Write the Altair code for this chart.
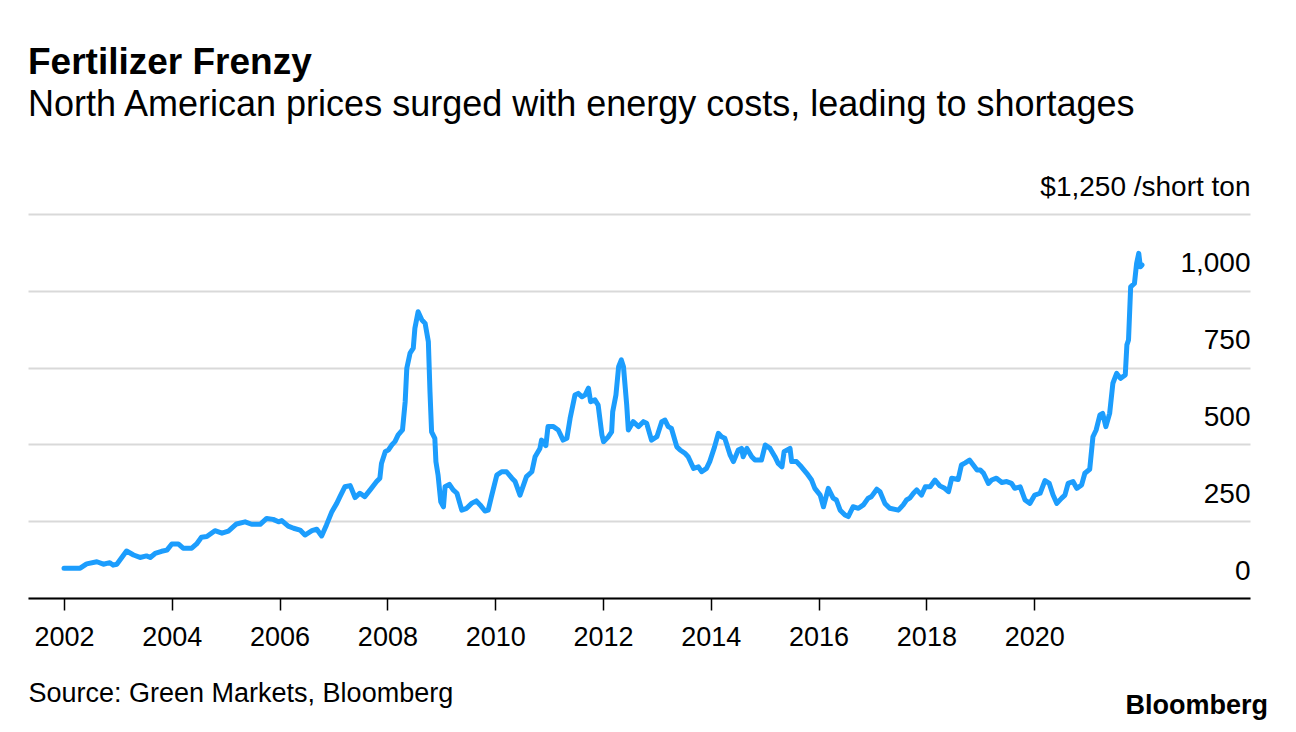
import altair as alt
import pandas as pd

FONT = "Liberation Sans"

years = [
    2002.00, 2002.30, 2002.42, 2002.61, 2002.73, 2002.85, 2002.91, 2002.98,
    2003.16, 2003.29, 2003.41, 2003.53, 2003.60, 2003.69, 2003.81, 2003.91,
    2004.00, 2004.12, 2004.21, 2004.37, 2004.46, 2004.55, 2004.65, 2004.80,
    2004.93, 2005.05, 2005.20, 2005.36, 2005.48, 2005.64, 2005.76, 2005.88,
    2005.98, 2006.04, 2006.16, 2006.26, 2006.38, 2006.47, 2006.60, 2006.69,
    2006.78, 2006.87, 2006.97, 2007.06, 2007.12, 2007.21, 2007.31, 2007.40,
    2007.49, 2007.58, 2007.68, 2007.80, 2007.86, 2007.89, 2007.96, 2008.02,
    2008.08, 2008.14, 2008.20, 2008.28, 2008.33, 2008.36, 2008.42, 2008.48,
    2008.51, 2008.57, 2008.64, 2008.70, 2008.76, 2008.79, 2008.82, 2008.88,
    2008.90, 2008.94, 2008.99, 2009.04, 2009.07, 2009.15, 2009.22, 2009.29,
    2009.38, 2009.47, 2009.56, 2009.65, 2009.72, 2009.81, 2009.87, 2009.93,
    2010.03, 2010.12, 2010.21, 2010.31, 2010.37, 2010.46, 2010.58, 2010.68,
    2010.74, 2010.83, 2010.86, 2010.94, 2010.98, 2011.08, 2011.17, 2011.26,
    2011.33, 2011.39, 2011.48, 2011.54, 2011.61, 2011.67, 2011.73, 2011.77,
    2011.85, 2011.91, 2011.98, 2012.01, 2012.10, 2012.16, 2012.18, 2012.24,
    2012.29, 2012.34, 2012.38, 2012.44, 2012.47, 2012.56, 2012.66, 2012.75,
    2012.81, 2012.90, 2013.00, 2013.09, 2013.15, 2013.21, 2013.27, 2013.37,
    2013.43, 2013.52, 2013.58, 2013.68, 2013.77, 2013.83, 2013.92, 2013.98,
    2014.07, 2014.14, 2014.20, 2014.26, 2014.36, 2014.42, 2014.51, 2014.57,
    2014.60, 2014.67, 2014.76, 2014.82, 2014.94, 2015.01, 2015.10, 2015.19,
    2015.25, 2015.32, 2015.36, 2015.47, 2015.50, 2015.59, 2015.68, 2015.78,
    2015.87, 2015.93, 2016.03, 2016.09, 2016.18, 2016.27, 2016.33, 2016.40,
    2016.49, 2016.55, 2016.64, 2016.74, 2016.83, 2016.92, 2016.98, 2017.08,
    2017.14, 2017.23, 2017.32, 2017.48, 2017.57, 2017.63, 2017.69, 2017.76,
    2017.82, 2017.91, 2017.98, 2018.07, 2018.16, 2018.25, 2018.34, 2018.41,
    2018.47, 2018.59, 2018.65, 2018.72, 2018.80, 2018.87, 2018.94, 2019.00,
    2019.06, 2019.15, 2019.21, 2019.30, 2019.40, 2019.49, 2019.58, 2019.64,
    2019.74, 2019.83, 2019.92, 2020.01, 2020.11, 2020.20, 2020.28, 2020.35,
    2020.42, 2020.51, 2020.57, 2020.63, 2020.72, 2020.79, 2020.88, 2020.94,
    2021.03, 2021.09, 2021.15, 2021.22, 2021.27, 2021.33, 2021.40, 2021.46,
    2021.53, 2021.60, 2021.69, 2021.72, 2021.75, 2021.79, 2021.86, 2021.90,
    2021.94, 2021.97, 2022.00,
]

prices = [
    97, 97, 111, 118, 110, 115, 107, 110,
    153, 140, 132, 137, 132, 145, 152, 156,
    176, 176, 162, 162, 176, 198, 200, 219,
    211, 218, 241, 248, 240, 240, 259, 256,
    248, 252, 234, 227, 221, 205, 219, 224,
    202, 238, 281, 308, 330, 362, 366, 327,
    341, 330, 352, 379, 390, 438, 476, 482,
    498, 509, 531, 547, 639, 748, 797, 813,
    878, 932, 905, 894, 834, 672, 541, 520,
    444, 400, 313, 297, 362, 370, 352, 341,
    286, 292, 308, 316, 303, 283, 286, 330,
    400, 411, 411, 390, 379, 335, 395, 411,
    460, 487, 514, 496, 558, 558, 547, 514,
    520, 585, 661, 666, 655, 661, 683, 639,
    645, 628, 531, 509, 525, 541, 606, 661,
    753, 775, 753, 628, 547, 574, 558, 574,
    569, 514, 525, 574, 579, 558, 552, 492,
    482, 471, 460, 422, 427, 411, 422, 444,
    492, 536, 525, 520, 465, 444, 482, 487,
    460, 487, 460, 449, 449, 498, 487, 460,
    438, 427, 476, 487, 444, 444, 427, 406,
    384, 357, 335, 297, 357, 325, 319, 286,
    270, 265, 297, 292, 303, 325, 330, 354,
    346, 308, 292, 286, 303, 319, 325, 341,
    352, 335, 362, 362, 384, 365, 357, 346,
    390, 386, 433, 440, 449, 433, 417, 417,
    406, 373, 384, 390, 376, 379, 373, 357,
    362, 319, 308, 335, 341, 382, 373, 335,
    308, 325, 335, 373, 379, 357, 368, 406,
    419, 525, 547, 596, 601, 558, 601, 699,
    731, 715, 726, 824, 840, 1013, 1024, 1089,
    1122, 1078, 1084,
]

x_ticks = [2002, 2004, 2006, 2008, 2010, 2012, 2014, 2016, 2018, 2020]
y_ticks = [0, 250, 500, 750, 1000, 1250]

title_text = "Fertilizer Frenzy"
subtitle_text = "North American prices surged with energy costs, leading to shortages"
source_text = "Source: Green Markets, Bloomberg"
logo_text = ["Bloomberg"]

df = pd.DataFrame({"year": years, "price": prices})

line = alt.Chart(df).mark_line(
    color="#1c9dfd", strokeWidth=5, strokeJoin="round", strokeCap="round"
).encode(
    x=alt.X(
        "year:Q",
        scale=alt.Scale(domain=[2001.332, 2024.004], nice=False, zero=False),
        axis=alt.Axis(
            values=x_ticks, format="d", grid=False,
            domainColor="black", domainWidth=2,
            tickColor="black", tickWidth=1.5, tickSize=12,
            labelFont=FONT, labelFontSize=27, labelColor="black",
            labelPadding=14, labelFlush=False,
            title=source_text, titleX=0, titleY=103,
            titleAnchor="start", titleAlign="left", titleBaseline="alphabetic",
            titleFont=FONT, titleFontSize=27, titleFontWeight="normal",
            titleColor="black",
        ),
    ),
    y=alt.Y(
        "price:Q",
        scale=alt.Scale(domain=[0, 1250], nice=False),
        axis=alt.Axis(
            orient="right", values=y_ticks, grid=True,
            gridColor="#d9d9d9", gridWidth=2,
            domain=False, ticks=False,
            labelAlign="right", labelBaseline="alphabetic",
            labelOffset=-19, labelPadding=0, labelFlush=False, labelLimit=500,
            labelFont=FONT, labelFontSize=28, labelColor="black",
            labelExpr="datum.value == 1250 ? '$1,250 /short ton' : format(datum.value, ',')",
            title=None,
        ),
    ),
)

logo = alt.Chart(pd.DataFrame({"t": logo_text})).mark_text(
    align="right", baseline="alphabetic", font=FONT, fontSize=27,
    fontWeight="bold", color="black"
).encode(
    text="t:N",
    x=alt.value(1240),
    y=alt.value(500),
)

chart = alt.layer(line, logo).properties(
    width=1222,
    height=384,
    autosize="none",
    padding={"left": 28, "top": 214, "right": 46, "bottom": 134},
    view=alt.ViewBackground(stroke="white", strokeWidth=0, strokeOpacity=0),
    title=alt.TitleParams(
        text=title_text,
        subtitle=subtitle_text,
        anchor="start",
        frame="group",
        font=FONT, fontSize=37, fontWeight="bold", color="black",
        subtitleFont=FONT, subtitleFontSize=36, subtitleColor="black",
        subtitlePadding=6, offset=49,
    ),
).configure_view(strokeWidth=0, strokeOpacity=0).configure(background="white")

chart.save("out.html", embed_options={"renderer": "svg", "actions": False})
